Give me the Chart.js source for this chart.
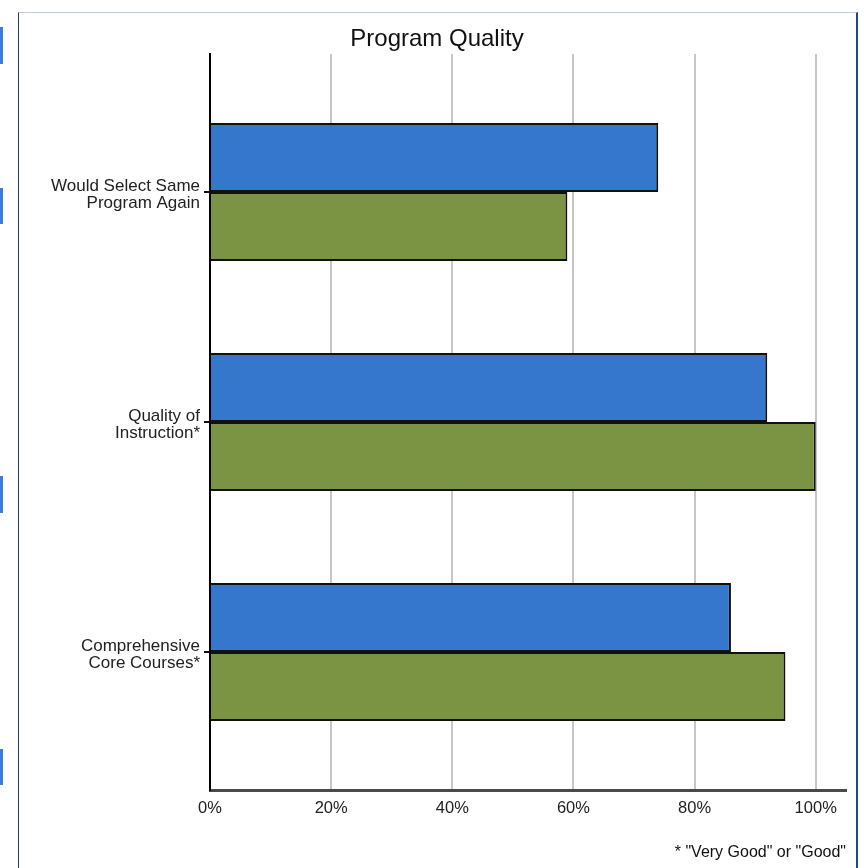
<!DOCTYPE html>
<html>
<head>
<meta charset="utf-8">
<script src="https://cdn.jsdelivr.net/npm/chart.js@4"></script>
<style>
    body { margin: 0; background: #fff; }
    #wrap { position: relative; width: 864px; height: 868px; overflow: hidden; }
    #frame { position: absolute; left: 18px; top: 12px; width: 837px; height: 900px;
             border-top: 1px solid #c3cbd9; border-left: 1px solid #1d3b6b; border-right: 2px solid #24477a; }
    .mark { position: absolute; left: 0; width: 3px; background: #3a7fd5; }
    canvas { position: absolute; left: 0; top: 0; }
</style>
</head>
<body>
<div id="wrap">
    <div id="frame"></div>
    <div class="mark" style="top:27px;height:37px"></div>
    <div class="mark" style="top:188px;height:36px"></div>
    <div class="mark" style="top:476px;height:37px"></div>
    <div class="mark" style="top:749px;height:36px"></div>
    <canvas id="qualityChart" width="864" height="868"></canvas>
</div>
<script>
// Chart values
const categories = ['Would Select Same Program Again', 'Quality of Instruction*', 'Comprehensive Core Courses*'];
const categoryLines = [['Would Select Same', 'Program Again'], ['Quality of', 'Instruction*'], ['Comprehensive', 'Core Courses*']];
const blueValues = [74, 92, 86];
const greenValues = [59, 100, 95];
const xTickValues = [0, 20, 40, 60, 80, 100];

function toPoints(values) {
    let points = [];
    for (var i = 0; i < values.length; i++) {
        points.push({x: values[i], y: i});
    }
    return points;
}

const ctx = document.getElementById('qualityChart');
const fontFamily = 'Liberation Sans, Arial, sans-serif';

let data = {
    datasets: [{
        label: 'Program',
        data: toPoints(blueValues),
        backgroundColor: '#3577cc',
        borderColor: '#111',
        borderWidth: 2
    },{
        label: 'Comparison',
        data: toPoints(greenValues),
        backgroundColor: '#7b9444',
        borderColor: '#111',
        borderWidth: 2
    }]
};

let config = {
    type: 'bar',
    data: data,
    options: {
        indexAxis: 'y',
        responsive: false,
        animation: false,
        categoryPercentage: 0.6,
        barPercentage: 1.0,
        layout: { padding: { left: 28, right: 18, top: 0, bottom: 0 } },
        plugins: {
            legend: { display: false },
            tooltip: { enabled: false },
            title: {
                display: true,
                text: 'Program Quality',
                color: '#111',
                font: { family: fontFamily, size: 24, weight: 'normal', lineHeight: 1.2 },
                padding: { top: 25, bottom: 0.2 }
            },
            subtitle: {
                display: true,
                position: 'bottom',
                align: 'end',
                text: '* "Very Good" or "Good"',
                color: '#111',
                font: { family: fontFamily, size: 16, lineHeight: 1.2 },
                padding: { top: 13.4, bottom: 5.4 }
            }
        },
        scales: {
            x: {
                type: 'linear',
                min: 0,
                max: 105,
                afterBuildTicks: (scale) => {
                    scale.ticks = xTickValues.map(v => ({value: v}));
                },
                afterFit: (scale) => { scale.height = 40; },
                ticks: {
                    color: '#222',
                    padding: 9,
                    font: { family: fontFamily, size: 16.5 },
                    callback: (v) => v + '%'
                },
                grid: {
                    drawTicks: false,
                    lineWidth: 2,
                    color: (c) => (c.tick && c.tick.value === 0) ? 'rgba(0,0,0,0)' : '#c6c6c6'
                },
                border: { color: '#4a4a4a', width: 3 }
            },
            y: {
                type: 'linear',
                reverse: true,
                offset: false,
                min: -0.6,
                max: 2.6,
                afterBuildTicks: (scale) => {
                    scale.ticks = categories.map((c, i) => ({value: i}));
                },
                afterFit: (scale) => { scale.width = 182; },
                ticks: {
                    color: '#222',
                    padding: 4,
                    labelOffset: 3,
                    font: { family: fontFamily, size: 17, lineHeight: 1.0 },
                    callback: (v) => categoryLines[v]
                },
                grid: {
                    offset: false,
                    drawOnChartArea: false,
                    drawTicks: true,
                    tickLength: 6,
                    color: '#111',
                    lineWidth: 2
                },
                border: { color: '#000', width: 2 }
            }
        }
    }
};

let chartObj = new Chart(ctx, config);
</script>
</body>
</html>
